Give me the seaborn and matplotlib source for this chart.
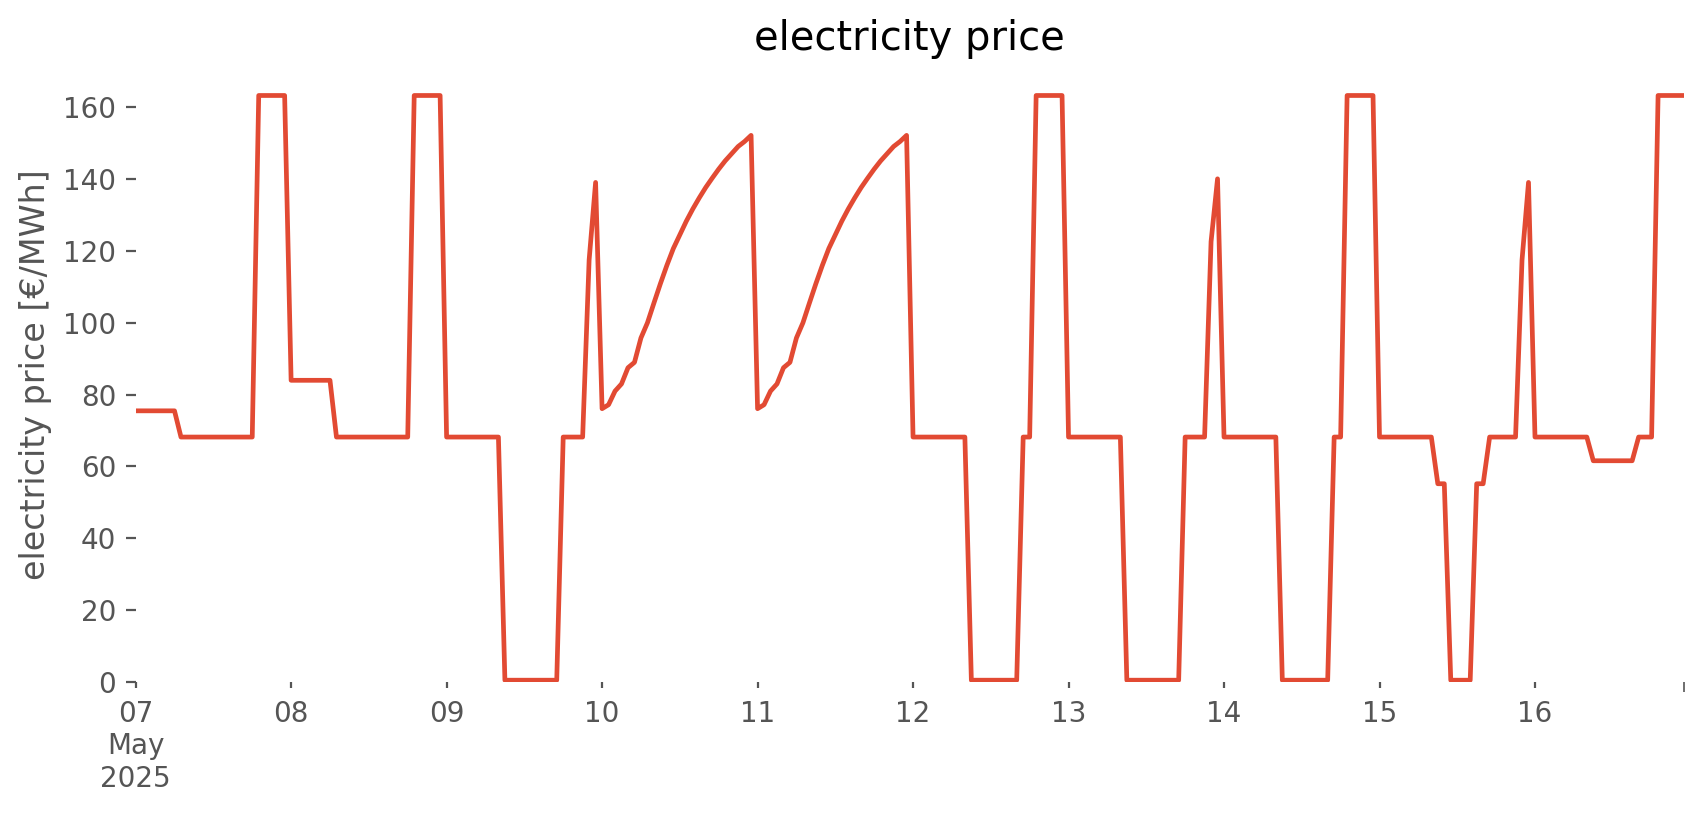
import matplotlib
matplotlib.use("Agg")
import matplotlib.pyplot as plt
import matplotlib.dates as mdates
import pandas as pd
import seaborn as sns

# hourly electricity price [EUR/MWh], 07 May 2025 00:00 .. 16 May 2025 23:00
day_07 = [75.5, 75.5, 75.5, 75.5, 75.5, 75.5, 75.5, 68.2, 68.2, 68.2, 68.2, 68.2,
          68.2, 68.2, 68.2, 68.2, 68.2, 68.2, 68.2, 163.3, 163.3, 163.3, 163.3, 163.3]
day_08 = [84.0, 84.0, 84.0, 84.0, 84.0, 84.0, 84.0, 68.2, 68.2, 68.2, 68.2, 68.2,
          68.2, 68.2, 68.2, 68.2, 68.2, 68.2, 68.2, 163.3, 163.3, 163.3, 163.3, 163.3]
day_09 = [68.2, 68.2, 68.2, 68.2, 68.2, 68.2, 68.2, 68.2, 68.2, 0.5, 0.5, 0.5,
          0.5, 0.5, 0.5, 0.5, 0.5, 0.5, 68.2, 68.2, 68.2, 68.2, 117.5, 139.1]
day_10 = [76.1, 77.2, 81.0, 83.0, 87.5, 89.0, 95.8, 100.0, 105.5, 110.9, 116.0, 120.7,
          124.5, 128.3, 131.7, 134.8, 137.7, 140.3, 142.8, 145.1, 147.1, 149.1, 150.5, 152.2]
day_11 = [76.1, 77.2, 81.0, 83.0, 87.5, 89.0, 95.8, 100.0, 105.5, 110.9, 116.0, 120.7,
          124.5, 128.3, 131.7, 134.8, 137.7, 140.3, 142.8, 145.1, 147.1, 149.1, 150.5, 152.2]
day_12 = [68.2, 68.2, 68.2, 68.2, 68.2, 68.2, 68.2, 68.2, 68.2, 0.5, 0.5, 0.5,
          0.5, 0.5, 0.5, 0.5, 0.5, 68.2, 68.2, 163.3, 163.3, 163.3, 163.3, 163.3]
day_13 = [68.2, 68.2, 68.2, 68.2, 68.2, 68.2, 68.2, 68.2, 68.2, 0.5, 0.5, 0.5,
          0.5, 0.5, 0.5, 0.5, 0.5, 0.5, 68.2, 68.2, 68.2, 68.2, 122.6, 140.1]
day_14 = [68.2, 68.2, 68.2, 68.2, 68.2, 68.2, 68.2, 68.2, 68.2, 0.5, 0.5, 0.5,
          0.5, 0.5, 0.5, 0.5, 0.5, 68.2, 68.2, 163.3, 163.3, 163.3, 163.3, 163.3]
day_15 = [68.2, 68.2, 68.2, 68.2, 68.2, 68.2, 68.2, 68.2, 68.2, 55.2, 55.2, 0.5,
          0.5, 0.5, 0.5, 55.2, 55.2, 68.2, 68.2, 68.2, 68.2, 68.2, 117.5, 139.1]
day_16 = [68.2, 68.2, 68.2, 68.2, 68.2, 68.2, 68.2, 68.2, 68.2, 61.6, 61.6, 61.6,
          61.6, 61.6, 61.6, 61.6, 68.2, 68.2, 68.2, 163.3, 163.3, 163.3, 163.3, 163.3]

prices = (day_07 + day_08 + day_09 + day_10 + day_11
          + day_12 + day_13 + day_14 + day_15 + day_16)
times = pd.date_range("2025-05-07 00:00", periods=len(prices), freq="h")
df = pd.DataFrame({"time": times, "price": prices})

day_labels = ["07\nMay\n2025", "08", "09", "10", "11", "12", "13", "14", "15", "16"]

plt.style.use("ggplot")
plt.rcParams["axes.facecolor"] = "white"
plt.rcParams["axes.grid"] = False

fig, ax = plt.subplots(figsize=(8.53, 4.075), dpi=200)
plt.subplots_adjust(left=0.0795, right=0.9871, bottom=0.1632, top=0.9187)

sns.lineplot(data=df, x="time", y="price", ax=ax, color="#E24A33", linewidth=1.7)

ax.set_xlim(times[0], times[-1])
ax.set_ylim(bottom=0)

day_ticks = pd.date_range("2025-05-07", periods=len(day_labels), freq="D")
ax.set_xticks(mdates.date2num(day_ticks))
ax.set_xticklabels(day_labels)
ax.set_xticks(mdates.date2num([times[0], times[-1]]), minor=True)
ax.tick_params(axis="x", which="major", length=2, pad=4.5)
ax.tick_params(axis="x", which="minor", length=3.5)

ax.set_xlabel("")
ax.set_ylabel("electricity price [€/MWh]")
ax.set_title("electricity price")

for s in ax.spines.values():
    s.set_visible(False)

plt.savefig("out.png", dpi=200)
